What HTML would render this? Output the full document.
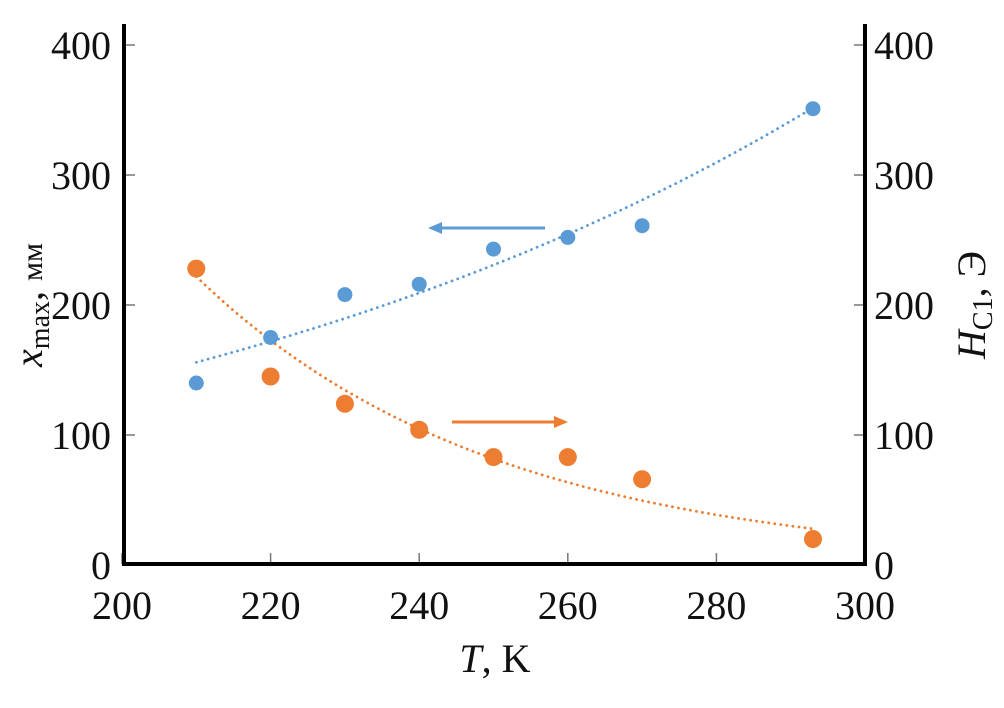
<!DOCTYPE html>
<html><head><meta charset="utf-8"><style>
html,body{margin:0;padding:0;background:#fff;}
svg text{font-family:"Liberation Serif","DejaVu Serif",serif;fill:#111;}
</style></head><body>
<svg id="chart" width="1004" height="703" viewBox="0 0 1004 703" xmlns="http://www.w3.org/2000/svg">
<g id="grid"></g>
<g id="marks"></g>
<line x1="124" y1="24" x2="124" y2="566" stroke="#000" stroke-width="4"/>
<line x1="865" y1="24" x2="865" y2="566" stroke="#000" stroke-width="4"/>
<line x1="122" y1="564" x2="867" y2="564" stroke="#000" stroke-width="4"/>
<text x="495" y="672" font-size="40" text-anchor="middle"><tspan font-style="italic">T</tspan>, K</text>
<text transform="translate(42,305) rotate(-90)" font-size="40" text-anchor="middle"><tspan font-style="italic">x</tspan><tspan font-size="28" dy="7">max</tspan><tspan dy="-7">, </tspan><tspan font-size="30">мм</tspan></text>
<text transform="translate(985,305) rotate(-90)" font-size="40" text-anchor="middle"><tspan font-style="italic">H</tspan><tspan font-size="28" dy="7">C1</tspan><tspan dy="-7">, Э</tspan></text>
<g><line x1="545" y1="228" x2="440" y2="228" stroke="#5b9bd5" stroke-width="3"/><polygon points="428,228 442,222 442,234" fill="#5b9bd5"/></g>
<g><line x1="452" y1="422" x2="556" y2="422" stroke="#ed7d31" stroke-width="3"/><polygon points="568,422 554,416 554,428" fill="#ed7d31"/></g>
</svg>
<script>
const temps = [210, 220, 230, 240, 250, 260, 270, 293];
const xmaxValues = [140, 175, 208, 216, 243, 252, 261, 351];
const hc1Values = [228, 145, 124, 104, 83, 83, 66, 20];
const xTicks = [200, 220, 240, 260, 280, 300];
const yTicks = [0, 100, 200, 300, 400];

const NS = "http://www.w3.org/2000/svg";
const X = v => 122 + (v - 200) * 7.43;
const Y = v => 565 - v * 1.3;
const grid = document.getElementById('grid');
const marks = document.getElementById('marks');
function mk(tag, attrs, parent) {
  const e = document.createElementNS(NS, tag);
  for (const k in attrs) e.setAttribute(k, attrs[k]);
  parent.appendChild(e);
  return e;
}
xTicks.forEach(t => {
  const l = mk('line', {x1: X(t), x2: X(t), y1: 564, y2: 553, stroke: '#777', 'stroke-width': 1.5}, grid);
  
  
  const tx = mk('text', {x: X(t), y: 619, 'font-size': 40, 'text-anchor': 'middle'}, grid);
  tx.textContent = t;
  
  
});
yTicks.forEach(t => {
  const l1 = mk('line', {x1: 124, x2: 135, y1: Y(t), y2: Y(t), stroke: '#777', 'stroke-width': 1.5}, grid);
  
  
  const l2 = mk('line', {x1: 854, x2: 865, y1: Y(t), y2: Y(t), stroke: '#777', 'stroke-width': 1.5}, grid);
  
  
  const a = mk('text', {x: 111, y: Y(t) + 14, 'font-size': 40, 'text-anchor': 'end'}, grid);
  a.textContent = t;
  
  
  const b = mk('text', {x: 874, y: Y(t) + 14, 'font-size': 40, 'text-anchor': 'start'}, grid);
  b.textContent = t;
  
  
});
function expFit(xs, ys) {
  const n = xs.length;
  let sx = 0, sy = 0, sxx = 0, sxy = 0;
  xs.forEach((x, i) => { const ly = Math.log(ys[i]); sx += x; sy += ly; sxx += x * x; sxy += x * ly; });
  const b = (n * sxy - sx * sy) / (n * sxx - sx * sx);
  const a = (sy - b * sx) / n;
  return x => Math.exp(a + b * x);
}
function trend(ys, color, name) {
  const f = expFit(temps, ys);
  let d = '';
  const x0 = temps[0], x1 = temps[temps.length - 1];
  for (let i = 0; i <= 60; i++) {
    const x = x0 + (x1 - x0) * i / 60;
    d += (i ? 'L' : 'M') + X(x).toFixed(1) + ',' + Y(f(x)).toFixed(1);
  }
  const p = mk('path', {d: d, fill: 'none', stroke: color, 'stroke-width': 2.8, 'stroke-dasharray': '0.1 6', 'stroke-linecap': 'round'}, marks);
  
  
}
trend(xmaxValues, '#5b9bd5', 'xmax-trendline');
trend(hc1Values, '#ed7d31', 'hc1-trendline');
temps.forEach((t, i) => {
  const c = mk('circle', {cx: X(t), cy: Y(xmaxValues[i]), r: 7.5, fill: '#5b9bd5'}, marks);
  
  
  const o = mk('circle', {cx: X(t), cy: Y(hc1Values[i]), r: 9, fill: '#ed7d31'}, marks);
  
  
});
</script>
</body></html>
